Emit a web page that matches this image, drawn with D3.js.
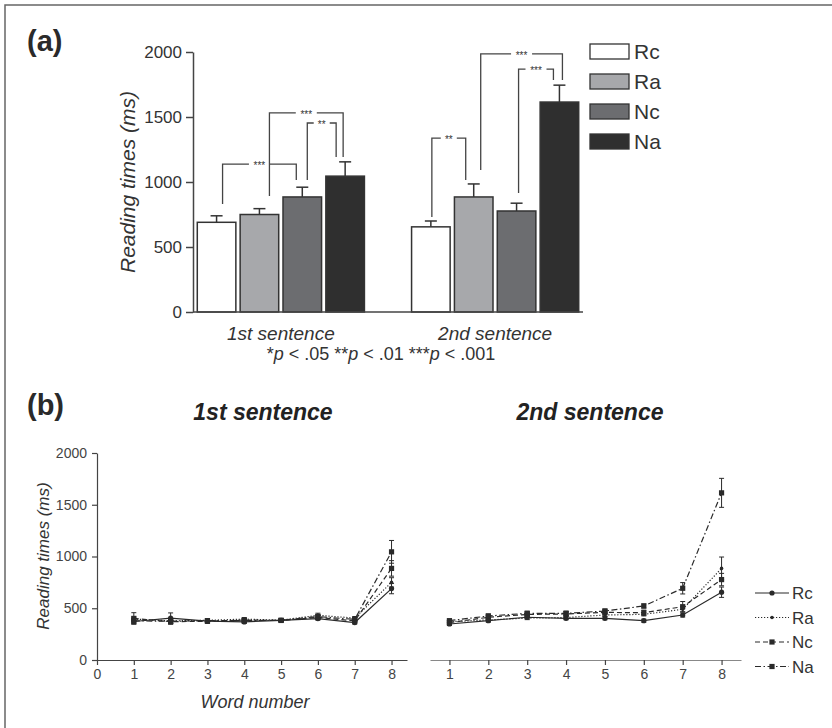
<!DOCTYPE html>
<html>
<head>
<meta charset="utf-8">
<script src="https://cdn.jsdelivr.net/npm/d3@7"></script>
<style>
  body { margin: 0; background: #fff; }
  svg { display: block; font-family: "Liberation Sans", Arial, sans-serif; }
</style>
</head>
<body>
<svg id="chart" width="832" height="728"></svg>
<script>
// conditions and groups
var conds = ['Rc', 'Ra', 'Nc', 'Na'];
var sentences = ['1st sentence', '2nd sentence'];
var condFill = ['#ffffff', '#a7a8ab', '#6c6d70', '#2f2f2f'];

// panel (a) means and SE (ms)
var barMeans1 = [690, 750, 885, 1045];
var barErr1 = [50, 45, 75, 110];
var barMeans2 = [655, 885, 777, 1615];
var barErr2 = [45, 100, 60, 130];

// significance brackets: [sentence, from, to, label, top, leftBottom, rightBottom, leftShift, rightShift]
var brackets = [
    [0, 'Rc', 'Nc', '***', 1138, 831, 1015, 6, -6],
    [0, 'Ra', 'Na', '***', 1531, 892, 1192, 10, -2],
    [0, 'Nc', 'Na', '**', 1454, 1015, 1192, 5, -9],
    [1, 'Rc', 'Ra', '**', 1338, 731, 1015, 1, -8],
    [1, 'Ra', 'Na', '***', 1985, 1092, 1785, 7, 3],
    [1, 'Nc', 'Na', '***', 1869, 915, 1785, 2, -6]
];

// panel (b) word-by-word reading times
var words = [1, 2, 3, 4, 5, 6, 7, 8];
var s1Rc = [372, 405, 375, 368, 383, 400, 362, 690];
var s1Ra = [395, 378, 383, 395, 385, 432, 405, 750];
var s1Nc = [402, 370, 374, 386, 382, 412, 378, 885];
var s1Na = [378, 375, 380, 380, 384, 420, 392, 1045];
var s1RcErr = [25, 50, 15, 15, 12, 15, 15, 50];
var s1RaErr = [20, 20, 15, 15, 12, 20, 15, 45];
var s1NcErr = [55, 25, 15, 15, 12, 20, 20, 75];
var s1NaErr = [25, 20, 15, 15, 12, 20, 20, 110];

var s2Rc = [348, 380, 413, 403, 403, 380, 435, 655];
var s2Ra = [370, 387, 405, 410, 435, 441, 490, 885];
var s2Nc = [361, 413, 440, 445, 460, 457, 515, 777];
var s2Na = [380, 425, 451, 451, 473, 522, 693, 1615];
var s2RcErr = [15, 15, 15, 15, 15, 15, 20, 50];
var s2RaErr = [15, 15, 15, 15, 15, 15, 25, 110];
var s2NcErr = [20, 20, 25, 25, 25, 25, 50, 60];
var s2NaErr = [15, 20, 20, 20, 20, 20, 55, 140];

var yTicks = [0, 500, 1000, 1500, 2000];

var svg = d3.select('#chart');
var ink = '#2a2a2a';

// outer frame
svg.append('rect')
    .attr('x', 5).attr('y', 5)
    .attr('width', 845).attr('height', 745)
    .attr('fill', 'none')
    .attr('stroke', '#666')
    .attr('stroke-width', 1.5);

// ---------------- panel (a) ----------------
svg.append('text').attr('x', 27).attr('y', 51)
    .style('font-size', '29px').style('font-weight', 'bold').attr('fill', ink).text('(a)');

var ya = d3.scaleLinear().domain([0, 2000]).range([312, 52]);
var x0 = d3.scaleBand().domain(sentences).range([193, 583]).paddingInner(0.22).paddingOuter(0.02);
var x1 = d3.scaleBand().domain(conds).range([0, x0.bandwidth()]).paddingInner(0.1);

var yAxisA = svg.append('g')
    .attr('transform', 'translate(193,0)')
    .call(d3.axisLeft(ya).tickValues(yTicks).tickFormat(d3.format('d')).tickSize(7).tickSizeOuter(0).tickPadding(4));
yAxisA.selectAll('path, line').attr('stroke', '#444').attr('stroke-width', 1.5);
yAxisA.selectAll('text').style('font-size', '17px').attr('fill', '#333');

svg.append('text')
    .attr('transform', 'translate(135,182) rotate(-90)')
    .attr('text-anchor', 'middle')
    .style('font-size', '21px').style('font-style', 'italic')
    .attr('fill', '#333')
    .text('Reading times (ms)');

var barRows = [];
sentences.forEach(function (s, si) {
    var m = si == 0 ? barMeans1 : barMeans2;
    var e = si == 0 ? barErr1 : barErr2;
    conds.forEach(function (c, ci) {
        barRows.push({ s: s, c: c, ci: ci, v: m[ci], e: e[ci] });
    });
});

function barCenter(s, c) { return x0(s) + x1(c) + x1.bandwidth() / 2; }

// error bars (upper only)
var errA = svg.append('g');
barRows.forEach(function (d) {
    var cx = barCenter(d.s, d.c);
    errA.append('line')
        .attr('x1', cx).attr('x2', cx)
        .attr('y1', ya(d.v)).attr('y2', ya(d.v + d.e))
        .attr('stroke', '#333').attr('stroke-width', 1.5);
    errA.append('line')
        .attr('x1', cx - 6).attr('x2', cx + 6)
        .attr('y1', ya(d.v + d.e)).attr('y2', ya(d.v + d.e))
        .attr('stroke', '#333').attr('stroke-width', 1.5);
});

svg.append('g').selectAll('rect')
    .data(barRows)
    .enter()
    .append('rect')
    .attr('x', function (d) { return x0(d.s) + x1(d.c); })
    .attr('y', function (d) { return ya(d.v); })
    .attr('width', x1.bandwidth())
    .attr('height', function (d) { return ya(0) - ya(d.v); })
    .attr('fill', function (d) { return condFill[d.ci]; })
    .attr('stroke', '#333')
    .attr('stroke-width', 1.5);

// baseline
svg.append('line')
    .attr('x1', 193).attr('x2', x0.range()[1])
    .attr('y1', ya(0)).attr('y2', ya(0))
    .attr('stroke', '#444').attr('stroke-width', 1.5);

// brackets
var br = svg.append('g');
brackets.forEach(function (b) {
    var s = sentences[b[0]];
    var xl = barCenter(s, b[1]) + b[7];
    var xr = barCenter(s, b[2]) + b[8];
    var yt = ya(b[4]);
    br.append('path')
        .attr('d', ['M', xl, ya(b[5]), 'L', xl, yt, 'L', xr, yt, 'L', xr, ya(b[6])].join(' '))
        .attr('fill', 'none')
        .attr('stroke', '#444')
        .attr('stroke-width', 1.3);
    var mid = (xl + xr) / 2;
    var w = b[3].length * 5 + 6;
    br.append('rect')
        .attr('x', mid - w / 2).attr('y', yt - 3)
        .attr('width', w).attr('height', 6)
        .attr('fill', '#fff');
    br.append('text')
        .attr('x', mid).attr('y', yt + 5)
        .attr('text-anchor', 'middle')
        .style('font-size', '10px')
        .attr('fill', '#333')
        .text(b[3]);
});

// group labels
svg.append('g').selectAll('text')
    .data(sentences)
    .enter()
    .append('text')
    .attr('x', function (d) { return x0(d) + x0.bandwidth() / 2; })
    .attr('y', 340)
    .attr('text-anchor', 'middle')
    .style('font-size', '19px').style('font-style', 'italic')
    .attr('fill', '#333')
    .text(function (d) { return d; });

// footnote
var fn = svg.append('text').attr('x', 381).attr('y', 360)
    .attr('text-anchor', 'middle')
    .style('font-size', '18px').attr('fill', '#333');
[['*', 'p', ' < .05 '], ['**', 'p', ' < .01 '], ['***', 'p', ' < .001']].forEach(function (p) {
    fn.append('tspan').text(p[0]);
    fn.append('tspan').style('font-style', 'italic').text(p[1]);
    fn.append('tspan').text(p[2]);
});

// legend (a)
var legA = svg.append('g');
conds.forEach(function (c, i) {
    legA.append('rect')
        .attr('x', 590).attr('y', 44 + i * 30)
        .attr('width', 39).attr('height', 15)
        .attr('fill', condFill[i])
        .attr('stroke', '#333').attr('stroke-width', 1.3);
    legA.append('text')
        .attr('x', 634).attr('y', 59 + i * 30)
        .style('font-size', '21px').attr('fill', '#333')
        .text(c);
});

// ---------------- panel (b) ----------------
svg.append('text').attr('x', 27).attr('y', 415)
    .style('font-size', '29px').style('font-weight', 'bold').attr('fill', ink).text('(b)');

var yb = d3.scaleLinear().domain([0, 2000]).range([660, 453]);
var xL = d3.scaleLinear().domain([0, 8.42]).range([97, 407]);
var xR = d3.scaleLinear().domain([0.5, 8.5]).range([430, 741]);

svg.append('text').attr('x', 263).attr('y', 420)
    .attr('text-anchor', 'middle')
    .style('font-size', '23px').style('font-weight', 'bold').style('font-style', 'italic')
    .attr('fill', '#222').text(sentences[0]);
svg.append('text').attr('x', 590).attr('y', 420)
    .attr('text-anchor', 'middle')
    .style('font-size', '23px').style('font-weight', 'bold').style('font-style', 'italic')
    .attr('fill', '#222').text(sentences[1]);

var yAxisB = svg.append('g')
    .attr('transform', 'translate(97,0)')
    .call(d3.axisLeft(yb).tickValues(yTicks).tickFormat(d3.format('d')).tickSize(5).tickSizeOuter(0).tickPadding(5));
yAxisB.selectAll('path, line').attr('stroke', '#444').attr('stroke-width', 1.2);
yAxisB.selectAll('text').style('font-size', '14px').attr('fill', '#444');

var xAxisL = svg.append('g')
    .attr('transform', 'translate(0,660)')
    .call(d3.axisBottom(xL).tickValues([0].concat(words)).tickFormat(d3.format('d')).tickSize(5).tickSizeOuter(0).tickPadding(4));
xAxisL.selectAll('path, line').attr('stroke', '#444').attr('stroke-width', 1.2);
xAxisL.selectAll('text').style('font-size', '14px').attr('fill', '#444');

var xAxisR = svg.append('g')
    .attr('transform', 'translate(0,660)')
    .call(d3.axisBottom(xR).tickValues(words).tickFormat(d3.format('d')).tickSize(5).tickSizeOuter(0).tickPadding(4));
xAxisR.selectAll('path').attr('stroke', '#888').attr('stroke-width', 1.2);
xAxisR.selectAll('line').attr('stroke', '#444').attr('stroke-width', 1.2);
xAxisR.selectAll('text').style('font-size', '14px').attr('fill', '#444');

svg.append('text')
    .attr('transform', 'translate(49,556) rotate(-90)')
    .attr('text-anchor', 'middle')
    .style('font-size', '17px').style('font-style', 'italic')
    .attr('fill', '#333').text('Reading times (ms)');

svg.append('text').attr('x', 255).attr('y', 708)
    .attr('text-anchor', 'middle')
    .style('font-size', '18px').style('font-style', 'italic')
    .attr('fill', '#333').text('Word number');

var dashes = [null, '1.2,1.8', '5,3', '6,2.5,1.5,2.5'];
var markers = ['circle', 'dot', 'square', 'square'];

function drawMarker(g, kind, x, y) {
    if (kind == 'circle') {
        g.append('circle').attr('cx', x).attr('cy', y).attr('r', 2.6).attr('fill', ink);
    } else if (kind == 'dot') {
        g.append('circle').attr('cx', x).attr('cy', y).attr('r', 1.8).attr('fill', ink);
    } else {
        g.append('rect').attr('x', x - 2.6).attr('y', y - 2.6).attr('width', 5.2).attr('height', 5.2).attr('fill', ink);
    }
}

function drawSeries(xs, vals, errs, ci) {
    var g = svg.append('g');
    var line = d3.line()
        .x(function (d, i) { return xs(words[i]); })
        .y(function (d) { return yb(d); });
    g.append('path')
        .attr('d', line(vals))
        .attr('fill', 'none')
        .attr('stroke', ink)
        .attr('stroke-width', 1.2)
        .attr('stroke-dasharray', dashes[ci]);
    vals.forEach(function (v, i) {
        var x = xs(words[i]);
        g.append('line')
            .attr('x1', x).attr('x2', x)
            .attr('y1', yb(v - errs[i])).attr('y2', yb(v + errs[i]))
            .attr('stroke', ink).attr('stroke-width', 1);
        [v - errs[i], v + errs[i]].forEach(function (e) {
            g.append('line')
                .attr('x1', x - 2.5).attr('x2', x + 2.5)
                .attr('y1', yb(e)).attr('y2', yb(e))
                .attr('stroke', ink).attr('stroke-width', 1);
        });
        drawMarker(g, markers[ci], x, yb(v));
    });
}

var s1 = [s1Rc, s1Ra, s1Nc, s1Na];
var s1e = [s1RcErr, s1RaErr, s1NcErr, s1NaErr];
var s2 = [s2Rc, s2Ra, s2Nc, s2Na];
var s2e = [s2RcErr, s2RaErr, s2NcErr, s2NaErr];
for (var ci = 0; ci < conds.length; ci++) {
    drawSeries(xL, s1[ci], s1e[ci], ci);
    drawSeries(xR, s2[ci], s2e[ci], ci);
}

// legend (b)
var legB = svg.append('g');
conds.forEach(function (c, i) {
    var yy = 593 + i * 24.5;
    legB.append('line')
        .attr('x1', 755).attr('x2', 789)
        .attr('y1', yy).attr('y2', yy)
        .attr('stroke', ink).attr('stroke-width', 1.2)
        .attr('stroke-dasharray', dashes[i]);
    drawMarker(legB, markers[i], 772, yy);
    legB.append('text')
        .attr('x', 792).attr('y', yy + 6)
        .style('font-size', '17px').attr('fill', '#333')
        .text(c);
});
</script>
</body>
</html>
